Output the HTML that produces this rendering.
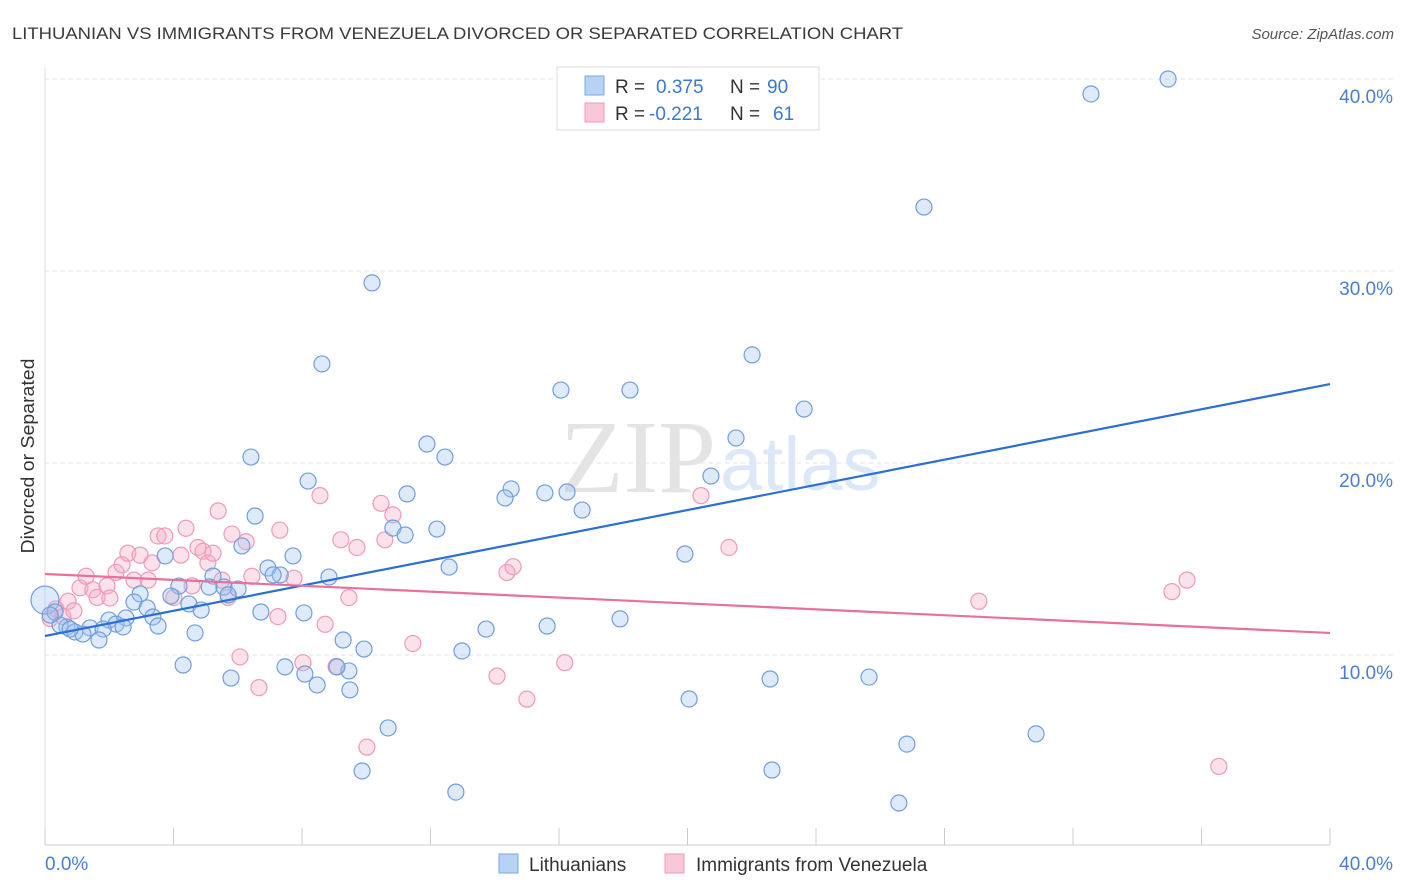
<!DOCTYPE html>
<html><head><meta charset="utf-8">
<style>
body{margin:0;background:#fff;font-family:"Liberation Sans",sans-serif;}
svg{display:block}
</style></head>
<body>
<svg id="chart" width="1406" height="892" xmlns="http://www.w3.org/2000/svg">
<text x="12" y="39" font-size="17" fill="#3a3a3a" textLength="891" lengthAdjust="spacingAndGlyphs">LITHUANIAN VS IMMIGRANTS FROM VENEZUELA DIVORCED OR SEPARATED CORRELATION CHART</text>
<text x="1394" y="39" font-size="15" fill="#555" text-anchor="end" font-style="italic">Source: ZipAtlas.com</text>
<text x="716" y="492" font-size="104" fill="#e4e4e4" text-anchor="end" font-family="Liberation Serif, serif">ZIP</text>
<text x="720" y="490" font-size="76" fill="#dce8f7">atlas</text>
<text transform="translate(34,456) rotate(-90)" font-size="18" fill="#333" text-anchor="middle" textLength="195" lengthAdjust="spacingAndGlyphs">Divorced or Separated</text>
<g id="grid"></g><g id="ticks"></g>
<g id="pts"></g><g id="lines"></g>
<g>
<rect x="557" y="67" width="262" height="63" fill="#fff" stroke="#ddd"/>
<rect x="585" y="76" width="19" height="19" fill="#b8d2f4" stroke="#7aa8e0"/>
<rect x="585" y="103" width="19" height="19" fill="#f9c8d8" stroke="#ee9ab8"/>
<text x="615" y="93" font-size="19" fill="#333">R = </text><text x="656" y="93" font-size="19" fill="#3a78d8">0.375</text>
<text x="730" y="93" font-size="19" fill="#333">N = </text><text x="767" y="93" font-size="19" fill="#3a78d8">90</text>
<text x="615" y="120" font-size="19" fill="#333">R = </text><text x="649" y="120" font-size="19" fill="#3a78d8">-0.221</text>
<text x="730" y="120" font-size="19" fill="#333">N = </text><text x="773" y="120" font-size="19" fill="#3a78d8">61</text>
</g>
<g>
<rect x="499" y="854" width="19" height="19" fill="#b8d2f4" stroke="#7aa8e0"/>
<text x="529" y="871" font-size="19" fill="#333">Lithuanians</text>
<rect x="665" y="854" width="19" height="19" fill="#f9c8d8" stroke="#ee9ab8"/>
<text x="696" y="871" font-size="19" fill="#333">Immigrants from Venezuela</text>
</g>
</svg>
<script>
const blueX=[34.96,32.56,27.36,10.18,8.62,22.01,16.06,18.21,23.63,21.51,11.89,12.45,6.41,20.73,8.19,14.51,15.56,16.25,11.27,14.32,16.72,6.54,12.20,10.83,11.21,6.13,19.92,7.72,3.74,12.58,6.94,7.32,7.10,8.84,5.23,4.17,5.11,6.01,5.57,2.96,3.92,5.70,2.77,4.48,3.18,4.86,6.72,8.06,3.36,2.52,1.99,2.21,2.43,3.52,0.68,1.40,1.81,0.93,1.18,1.68,4.67,13.73,17.90,15.63,9.28,9.93,12.98,4.30,7.47,5.79,8.47,8.09,9.46,9.09,9.49,22.57,25.65,20.05,10.68,26.83,30.85,9.87,22.63,12.79,26.58,0,0.31,0.47,0.16,0.78];
const blueY=[40.0,39.22,33.33,29.38,25.16,25.63,23.80,23.80,22.81,21.30,20.99,20.31,20.31,19.32,19.06,18.65,18.44,18.49,18.39,18.18,17.55,17.24,16.56,16.61,16.25,15.68,15.26,15.16,15.16,14.58,14.53,14.17,14.17,14.06,14.11,13.59,13.54,13.44,13.54,13.18,13.07,13.13,12.76,12.66,12.45,12.34,12.24,12.19,11.98,11.93,11.82,11.61,11.46,11.51,11.46,11.41,11.35,11.20,11.09,10.78,11.15,11.35,11.88,11.51,10.78,10.31,10.21,9.48,9.38,8.80,8.44,9.01,9.17,9.38,8.18,8.75,8.85,7.71,6.20,5.36,5.89,3.96,4.01,2.86,2.29,12.86,12.24,11.56,12.08,11.35];
const pinkX=[0.34,0.56,0.16,0.72,0.9,1.09,1.28,1.49,1.62,1.93,2.02,2.21,2.4,2.58,2.77,2.96,3.21,3.33,3.52,3.73,4.01,4.23,4.39,4.58,4.76,4.92,5.07,5.23,5.39,5.51,5.7,5.82,6.26,6.44,6.07,6.66,7.25,7.31,7.75,8.03,8.56,8.72,9.21,9.46,9.71,9.06,10.02,10.46,10.58,10.83,11.45,14.07,14.38,14.57,15.0,16.18,20.42,21.29,29.07,35.08,35.55,36.54];
const pinkY=[12.4,12.0,11.9,12.8,12.3,13.5,14.1,13.4,13.0,13.6,12.97,14.3,14.7,15.3,13.9,15.2,13.9,14.8,16.2,16.2,12.99,15.2,16.6,13.6,15.6,15.4,14.8,15.3,17.5,13.9,13.0,16.3,15.9,14.1,9.9,8.3,12.0,16.5,14.0,9.6,18.3,11.6,16.0,12.99,15.6,9.4,5.2,17.9,16.0,17.3,10.6,8.9,14.3,14.6,7.7,9.6,18.3,15.6,12.8,13.3,13.9,4.2];
const blueTrend=[10.99,24.11], pinkTrend=[14.22,11.15];
const yTicks=[10,20,30,40], yTickLabels=["10.0%","20.0%","30.0%","40.0%"];
const ns="http://www.w3.org/2000/svg";
const X=v=>45+v/40*1285, Y=v=>847-v*19.2;
function mk(tag,attrs,parent){const e=document.createElementNS(ns,tag);for(const k in attrs)e.setAttribute(k,attrs[k]);document.getElementById(parent).appendChild(e);return e;}
yTicks.forEach((t,i)=>{
 const g=mk('line',{x1:45,x2:1394,y1:Y(t),y2:Y(t),stroke:'#e2e2e2','stroke-dasharray':'4,4'},'grid');
 
 
 const l=mk('text',{x:1393,y:Y(t)+24,'font-size':19,fill:'#4a7fd0','text-anchor':'end'},'ticks');
 l.textContent=yTickLabels[i];
 
 
});
const ax=mk('line',{x1:45,x2:1330,y1:845,y2:845,stroke:'#ccc'},'grid');


const ay=mk('line',{x1:45,x2:45,y1:68,y2:845,stroke:'#ddd'},'grid');


for(let i=0;i<=10;i++){const t=mk('line',{x1:X(i*4),x2:X(i*4),y1:828,y2:845,stroke:'#ccc'},'grid');
 
 }
const xl0=mk('text',{x:45,y:870,'font-size':19,fill:'#4a7fd0'},'ticks');xl0.textContent='0.0%';


const xl1=mk('text',{x:1393,y:870,'font-size':19,fill:'#4a7fd0','text-anchor':'end'},'ticks');xl1.textContent='40.0%';


pinkX.forEach((x,i)=>{const c=mk('circle',{cx:X(x),cy:Y(pinkY[i]),r:8,fill:'rgba(244,170,196,0.35)',stroke:'#ee9ab8','stroke-width':1.2},'pts');
 
 });
blueX.forEach((x,i)=>{const c=mk('circle',{cx:X(x),cy:Y(blueY[i]),r:i==85?14:8,fill:'rgba(160,196,240,0.35)',stroke:'#6f9edc','stroke-width':1.2},'pts');
 
 });
const bl=mk('line',{x1:X(0),y1:Y(blueTrend[0]),x2:X(40),y2:Y(blueTrend[1]),stroke:'#2a6fd6','stroke-width':2.2},'lines');


const pl=mk('line',{x1:X(0),y1:Y(pinkTrend[0]),x2:X(40),y2:Y(pinkTrend[1]),stroke:'#e8709a','stroke-width':2.2},'lines');


</script>
</body></html>
